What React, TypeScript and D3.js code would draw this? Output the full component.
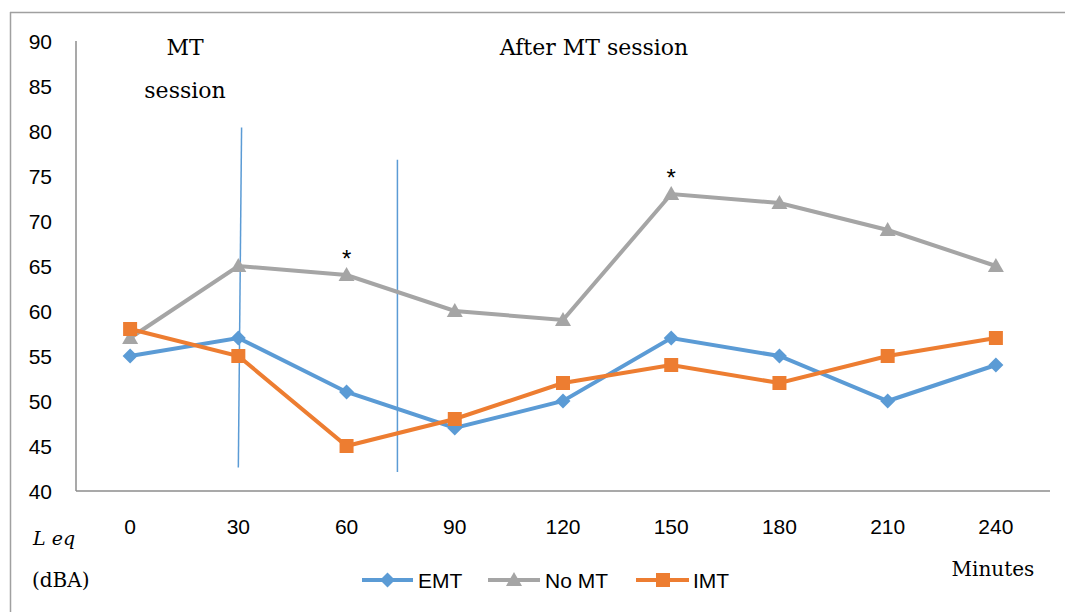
import React from "react";
import * as d3 from "d3";

const categories = ["0", "30", "60", "90", "120", "150", "180", "210", "240"];
const emt = [55, 57, 51, 47, 50, 57, 55, 50, 54];
const noMT = [57, 65, 64, 60, 59, 73, 72, 69, 65];
const imt = [58, 55, 45, 48, 52, 54, 52, 55, 57];
const yTicks = [40, 45, 50, 55, 60, 65, 70, 75, 80, 85, 90];
// session divider lines (x in category-index units, y in dBA)
const dividers = [
  { xTop: 1.03, xBottom: 1.0, yTop: 80.4, yBottom: 42.6 },
  { xTop: 2.47, xBottom: 2.47, yTop: 76.8, yBottom: 42.1 },
];
const stars = [
  { idx: 2, value: 64 },
  { idx: 5, value: 73 },
];

const W = 1065;
const H = 612;
const left = 76;
const right = 1050;
const top = 41;
const bottom = 491;

export default function App() {
  const x = d3.scaleBand<string>().domain(categories).range([left, right]);
  const cx = (i: number) => (x(categories[0]) as number) + x.bandwidth() / 2 + i * x.step();
  const y = d3.scaleLinear().domain([40, 90]).range([bottom, top]);
  const line = d3
    .line<number>()
    .x((_, i) => cx(i))
    .y((d) => y(d));

  const blue = "#5B9BD5";
  const gray = "#A5A5A5";
  const orange = "#ED7D31";
  const sans = "'Liberation Sans', Arial, sans-serif";
  const serif = "'DejaVu Serif', 'Liberation Serif', serif";

  const diamond = (px: number, py: number, r = 7.5) =>
    `M${px},${py - r}L${px + r},${py}L${px},${py + r}L${px - r},${py}Z`;
  const triangle = (px: number, py: number, s = 8) =>
    `M${px},${py - s}L${px + s},${py + s * 0.75}L${px - s},${py + s * 0.75}Z`;

  return (
    <svg
      width={W}
      height={H}
      style={{ position: "absolute", left: 0, top: 0, background: "#fff" }}
    >
      {/* outer frame (top and left only) */}
      <line x1={10} y1={12.5} x2={W} y2={12.5} stroke="#A0A0A0" strokeWidth={1.5} />
      <line x1={10.5} y1={12} x2={10.5} y2={H} stroke="#A0A0A0" strokeWidth={1.5} />

      {/* axes */}
      <line x1={left} y1={top} x2={left} y2={bottom} stroke="#8C8C8C" strokeWidth={1.5} />
      <line x1={left} y1={bottom} x2={right} y2={bottom} stroke="#8C8C8C" strokeWidth={1.5} />

      {yTicks.map((t) => (
        <text
          key={t}
          x={52}
          y={y(t) + 7.5}
          textAnchor="end"
          fontFamily={sans}
          fontSize={21}
          fill="#000"
        >
          {t}
        </text>
      ))}
      {categories.map((c, i) => (
        <text
          key={c}
          x={cx(i)}
          y={533.5}
          textAnchor="middle"
          fontFamily={sans}
          fontSize={21}
          fill="#000"
        >
          {c}
        </text>
      ))}

      {/* dividers */}
      {dividers.map((d, i) => (
        <line
          key={i}
          x1={cx(d.xTop)}
          y1={y(d.yTop)}
          x2={cx(d.xBottom)}
          y2={y(d.yBottom)}
          stroke={blue}
          strokeWidth={1.5}
        />
      ))}

      {/* series */}
      <path d={line(noMT) as string} fill="none" stroke={gray} strokeWidth={4} />
      <path d={line(emt) as string} fill="none" stroke={blue} strokeWidth={4} />
      <path d={line(imt) as string} fill="none" stroke={orange} strokeWidth={4} />

      {noMT.map((v, i) => (
        <path key={"t" + i} d={triangle(cx(i), y(v))} fill={gray} />
      ))}
      {emt.map((v, i) => (
        <path key={"d" + i} d={diamond(cx(i), y(v))} fill={blue} />
      ))}
      {imt.map((v, i) => (
        <rect key={"s" + i} x={cx(i) - 7} y={y(v) - 7} width={14} height={14} fill={orange} />
      ))}

      {stars.map((s, i) => (
        <text
          key={"st" + i}
          x={cx(s.idx)}
          y={y(s.value) - 8}
          textAnchor="middle"
          fontFamily={sans}
          fontSize={24}
          fill="#000"
        >
          *
        </text>
      ))}

      {/* annotations */}
      <text x={185} y={47} textAnchor="middle" dominantBaseline="central" fontFamily={serif} fontSize={22}>
        MT
      </text>
      <text x={185} y={90} textAnchor="middle" dominantBaseline="central" fontFamily={serif} fontSize={22}>
        session
      </text>
      <text x={594} y={47} textAnchor="middle" dominantBaseline="central" fontFamily={serif} fontSize={22}>
        After MT session
      </text>
      <text x={33} y={538} dominantBaseline="central" fontFamily={serif} fontSize={19} fontStyle="italic">
        L eq
      </text>
      <text x={32} y={580} dominantBaseline="central" fontFamily={serif} fontSize={20}>
        (dBA)
      </text>
      <text x={993} y={569} textAnchor="middle" dominantBaseline="central" fontFamily={serif} fontSize={20}>
        Minutes
      </text>

      {/* legend */}
      <g>
        <line x1={362} y1={580} x2={413} y2={580} stroke={blue} strokeWidth={4} />
        <path d={diamond(387.5, 580)} fill={blue} />
        <text x={418} y={587.5} fontFamily={sans} fontSize={21}>
          EMT
        </text>
        <line x1={488} y1={580} x2={540} y2={580} stroke={gray} strokeWidth={4} />
        <path d={triangle(514, 580)} fill={gray} />
        <text x={545} y={587.5} fontFamily={sans} fontSize={21}>
          No MT
        </text>
        <line x1={636} y1={580} x2={689} y2={580} stroke={orange} strokeWidth={4} />
        <rect x={656} y={573} width={14} height={14} fill={orange} />
        <text x={693} y={587.5} fontFamily={sans} fontSize={21}>
          IMT
        </text>
      </g>
    </svg>
  );
}
